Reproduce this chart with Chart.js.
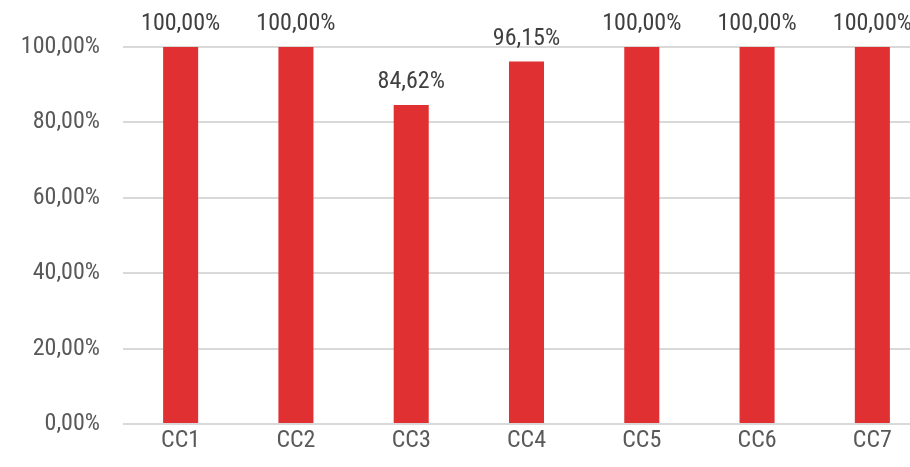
<!DOCTYPE html>
<html><head><meta charset="utf-8">
<script src="https://cdn.jsdelivr.net/npm/chart.js@4"></script>
<style>html,body{margin:0;padding:0;overflow:hidden;background:#fff}#wrap{width:930px;height:467px}</style>
</head><body><div id="wrap"><canvas id="c" width="930" height="467"></canvas></div>
<script>
const categories = ["CC1","CC2","CC3","CC4","CC5","CC6","CC7"];
const values = [100, 100, 84.62, 96.15, 100, 100, 100];
const yTicks = [0, 20, 40, 60, 80, 100];
const FONT = "'Roboto Condensed','Liberation Sans Narrow','Arial Narrow',Roboto,sans-serif";
const fmt = v => v.toFixed(2).replace('.', ',') + '%';

const labelPlugin = {
  id: 'labels',
  afterDatasetsDraw(chart) {
    const ctx = chart.ctx;
    const meta = chart.getDatasetMeta(0);
    ctx.save();
    ctx.font = "24px " + FONT;
    ctx.fillStyle = '#404040';
    ctx.textAlign = 'center';
    ctx.textBaseline = 'alphabetic';
    meta.data.forEach((bar, i) => {
      ctx.fillText(fmt(values[i]), bar.x, bar.y - 17);
    });
    ctx.restore();
  }
};

new Chart(document.getElementById('c'), {
  type: 'bar',
  data: { labels: categories, datasets: [{ data: values, backgroundColor: '#E03032', borderWidth: 0, barPercentage: 0.304, categoryPercentage: 1 }] },
  options: {
    responsive: false, animation: false,
    layout: { padding: { top: 47, right: 0, left: 0, bottom: 0 } },
    plugins: { legend: { display: false }, tooltip: { enabled: false } },
    scales: {
      x: {
        grid: { display: false, drawTicks: false },
        border: { display: false },
        ticks: { color: '#595959', font: { size: 24, family: FONT }, padding: 3 },
        afterFit(s) { s.height = 43; }
      },
      y: {
        min: 0, max: 100,
        afterBuildTicks(s) { s.ticks = yTicks.map(v => ({ value: v })); },
        grid: { color: '#D9D9D9', lineWidth: 2, drawTicks: false },
        border: { display: false },
        ticks: { color: '#595959', font: { size: 24, family: FONT }, padding: 23, callback: v => fmt(v) },
        afterFit(s) { s.width = 123; }
      }
    }
  },
  plugins: [labelPlugin]
});
</script></body></html>
